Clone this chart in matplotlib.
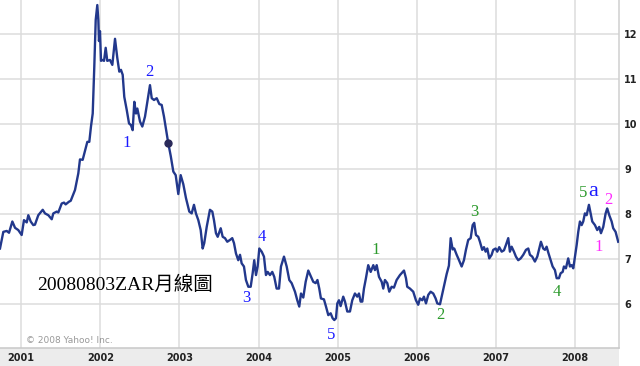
import matplotlib
matplotlib.use("Agg")
import matplotlib.pyplot as plt

# weekly ZAR close (decimal year, rate)
t = [2000.732, 2000.774, 2000.817, 2000.846, 2000.888, 2000.922, 2000.963, 2001.006,
     2001.035, 2001.070, 2001.090, 2001.120, 2001.153, 2001.174, 2001.216, 2001.272,
     2001.301, 2001.343, 2001.386, 2001.406, 2001.449, 2001.469, 2001.512, 2001.541,
     2001.562, 2001.604, 2001.626, 2001.680, 2001.722, 2001.743, 2001.777, 2001.819,
     2001.836, 2001.861, 2001.882, 2001.904, 2001.924, 2001.942, 2001.962, 2001.975,
     2001.983, 2001.996, 2002.009, 2002.025, 2002.047, 2002.068, 2002.088, 2002.122,
     2002.152, 2002.186, 2002.215, 2002.240, 2002.261, 2002.283, 2002.303, 2002.334,
     2002.363, 2002.388, 2002.409, 2002.430, 2002.451, 2002.468, 2002.502, 2002.531,
     2002.565, 2002.599, 2002.628, 2002.650, 2002.679, 2002.713, 2002.746, 2002.776,
     2002.805, 2002.839, 2002.859, 2002.890, 2002.923, 2002.953, 2002.986, 2003.016,
     2003.049, 2003.083, 2003.125, 2003.155, 2003.184, 2003.209, 2003.239, 2003.269,
     2003.294, 2003.314, 2003.345, 2003.386, 2003.416, 2003.437, 2003.462, 2003.484,
     2003.522, 2003.547, 2003.576, 2003.605, 2003.639, 2003.668, 2003.690, 2003.715,
     2003.744, 2003.766, 2003.787, 2003.816, 2003.841, 2003.871, 2003.901, 2003.926,
     2003.946, 2003.968, 2003.989, 2004.010, 2004.040, 2004.069, 2004.094, 2004.116,
     2004.145, 2004.174, 2004.199, 2004.229, 2004.259, 2004.284, 2004.322, 2004.356,
     2004.389, 2004.419, 2004.461, 2004.490, 2004.515, 2004.537, 2004.566, 2004.596,
     2004.629, 2004.659, 2004.692, 2004.722, 2004.745, 2004.768, 2004.789, 2004.827,
     2004.853, 2004.882, 2004.912, 2004.937, 2004.958, 2004.979, 2004.996, 2005.017,
     2005.038, 2005.071, 2005.093, 2005.122, 2005.156, 2005.185, 2005.219, 2005.248,
     2005.270, 2005.291, 2005.312, 2005.333, 2005.358, 2005.387, 2005.418, 2005.451,
     2005.472, 2005.494, 2005.523, 2005.557, 2005.577, 2005.598, 2005.628, 2005.653,
     2005.683, 2005.712, 2005.746, 2005.788, 2005.839, 2005.864, 2005.880, 2005.914,
     2005.956, 2005.990, 2006.019, 2006.041, 2006.070, 2006.091, 2006.117, 2006.146,
     2006.176, 2006.209, 2006.239, 2006.260, 2006.294, 2006.335, 2006.378, 2006.407,
     2006.429, 2006.454, 2006.474, 2006.505, 2006.525, 2006.568, 2006.597, 2006.622,
     2006.651, 2006.682, 2006.707, 2006.727, 2006.749, 2006.778, 2006.799, 2006.828,
     2006.850, 2006.871, 2006.892, 2006.917, 2006.947, 2006.967, 2006.998, 2007.018,
     2007.043, 2007.074, 2007.103, 2007.128, 2007.157, 2007.178, 2007.200, 2007.229,
     2007.254, 2007.283, 2007.314, 2007.347, 2007.381, 2007.410, 2007.431, 2007.460,
     2007.494, 2007.524, 2007.549, 2007.570, 2007.599, 2007.621, 2007.642, 2007.663,
     2007.693, 2007.718, 2007.747, 2007.769, 2007.798, 2007.819, 2007.845, 2007.861,
     2007.886, 2007.915, 2007.937, 2007.958, 2007.979, 2008.000, 2008.022, 2008.042,
     2008.063, 2008.085, 2008.105, 2008.126, 2008.148, 2008.177, 2008.198, 2008.219,
     2008.253, 2008.282, 2008.307, 2008.329, 2008.358, 2008.388, 2008.408, 2008.434,
     2008.464, 2008.484, 2008.514, 2008.547]
rate = [7.24, 7.61, 7.63, 7.59, 7.84, 7.70, 7.65, 7.54,
        7.87, 7.82, 7.98, 7.84, 7.76, 7.77, 7.98, 8.10,
        8.02, 7.98, 7.89, 8.02, 8.06, 8.04, 8.24, 8.26,
        8.22, 8.28, 8.30, 8.54, 8.91, 9.22, 9.21, 9.50,
        9.61, 9.61, 9.95, 10.24, 11.28, 12.32, 12.65, 12.32,
        11.85, 12.07, 11.41, 11.43, 11.41, 11.70, 11.41, 11.43,
        11.32, 11.90, 11.47, 11.17, 11.21, 11.10, 10.61, 10.32,
        10.02, 9.98, 9.87, 10.50, 10.24, 10.35, 10.06, 9.95,
        10.17, 10.54, 10.87, 10.58, 10.54, 10.58, 10.45, 10.43,
        10.17, 9.80, 9.58, 9.30, 8.95, 8.87, 8.45, 8.87,
        8.67, 8.36, 8.06, 8.02, 8.21, 8.02, 7.87, 7.65,
        7.24, 7.36, 7.72, 8.10, 8.06, 7.87, 7.58, 7.50,
        7.69, 7.50, 7.47, 7.39, 7.43, 7.47, 7.36, 7.13,
        6.98, 7.10, 6.91, 6.84, 6.54, 6.39, 6.39, 6.69,
        6.98, 6.65, 6.84, 7.24, 7.17, 7.06, 6.65, 6.72,
        6.65, 6.72, 6.61, 6.35, 6.35, 6.84, 7.06, 6.84,
        6.54, 6.47, 6.28, 6.09, 5.95, 6.24, 6.15, 6.50,
        6.75, 6.63, 6.50, 6.47, 6.54, 6.35, 6.13, 6.11,
        5.95, 5.76, 5.80, 5.69, 5.65, 5.69, 6.02, 6.09,
        5.96, 6.17, 6.06, 5.84, 5.84, 6.09, 6.24, 6.17,
        6.24, 6.06, 6.06, 6.35, 6.58, 6.87, 6.72, 6.87,
        6.76, 6.87, 6.61, 6.50, 6.35, 6.54, 6.47, 6.28,
        6.39, 6.37, 6.54, 6.65, 6.75, 6.58, 6.39, 6.35,
        6.28, 6.09, 5.99, 6.13, 6.09, 6.17, 6.02, 6.21,
        6.28, 6.24, 6.13, 6.02, 6.00, 6.33, 6.67, 6.86,
        7.47, 7.22, 7.24, 7.10, 7.02, 6.84, 6.98, 7.21,
        7.43, 7.47, 7.76, 7.81, 7.54, 7.50, 7.39, 7.21,
        7.27, 7.17, 7.24, 7.02, 7.10, 7.21, 7.24, 7.17,
        7.27, 7.17, 7.20, 7.32, 7.47, 7.17, 7.28, 7.17,
        7.06, 6.98, 7.02, 7.10, 7.21, 7.24, 7.10, 7.06,
        6.95, 7.06, 7.24, 7.39, 7.24, 7.21, 7.28, 7.15,
        6.98, 6.84, 6.76, 6.58, 6.58, 6.69, 6.72, 6.84,
        6.80, 7.02, 6.84, 6.87, 6.80, 7.06, 7.32, 7.61,
        7.84, 7.76, 7.84, 8.02, 7.98, 8.21, 8.02, 7.84,
        7.76, 7.65, 7.72, 7.58, 7.72, 8.02, 8.13, 7.98,
        7.84, 7.69, 7.61, 7.39]

years = [2001, 2002, 2003, 2004, 2005, 2006, 2007, 2008]
rate_ticks = [6, 7, 8, 9, 10, 11, 12]

# highlighted point on the line
dot_t, dot_v = 2002.859, 9.58

# wave count labels (text, x, y, colour, size)
wave_text = ["1", "2", "3", "4", "5", "1", "2", "3", "4", "5", "a", "1", "2"]
wave_t = [2002.334, 2002.620, 2003.851, 2004.048, 2004.912, 2005.481, 2006.294,
          2006.727, 2007.775, 2008.105, 2008.232, 2008.298, 2008.426]
wave_v = [9.58, 11.17, 6.13, 7.50, 5.32, 7.21, 5.76, 8.06, 6.28, 8.47, 8.50, 7.27, 8.32]
wave_col = ["#1a1aff"] * 5 + ["#2c9a2c"] * 5 + ["#1a1aff", "#ff2bff", "#ff2bff"]
wave_size = [12] * 10 + [16, 12, 12]

fig = plt.figure(figsize=(6.4, 3.66), dpi=100)
# grey strip for the year labels, under the plot area only
strip = plt.Rectangle((0, 0), 618.6 / 640, 18 / 366, transform=fig.transFigure,
                      facecolor="#ececec", edgecolor="none", zorder=-5)
fig.patches.append(strip)

ax = fig.add_axes([0, 18 / 366, 618.6 / 640, 348 / 366])
ax.set_facecolor("white")
ax.set_xlim(2000.732, 2008.552)
ax.set_ylim(5.029, 12.762)

ax.plot(t, rate, color="#22388c", lw=1.7, solid_joinstyle="round", zorder=3)
ax.plot([dot_t], [dot_v], "o", color="#2a2a5a", ms=5, zorder=4)

for s, x, y, c, fs in zip(wave_text, wave_t, wave_v, wave_col, wave_size):
    ax.text(x, y, s, color=c, fontsize=fs, ha="center", va="center",
            family=["Liberation Serif"], zorder=5)

ax.text(0.06, 0.181, "20080803ZAR月線圖", transform=ax.transAxes, fontsize=14,
        ha="left", va="center", color="black",
        family=["Liberation Serif", "Noto Sans CJK TC"])
ax.text(0.042, 0.021, "© 2008 Yahoo! Inc.", transform=ax.transAxes, fontsize=6.5,
        ha="left", va="center", color="#999999")

ax.set_xticks(years)
ax.set_xticklabels([str(y) for y in years], fontsize=7, fontweight="bold", color="#222222")
ax.set_yticks(rate_ticks)
ax.set_yticklabels([str(v) for v in rate_ticks], fontsize=7, fontweight="bold", color="#222222")
ax.yaxis.tick_right()
ax.tick_params(axis="x", length=0, pad=3.5)
ax.tick_params(axis="y", length=0, pad=4)
ax.grid(True, color="#dcdcdc", lw=1.1, zorder=0)

for side in ["left", "top"]:
    ax.spines[side].set_visible(False)
ax.spines["right"].set_color("#d0d0d0")
ax.spines["bottom"].set_color("#c8c8c8")
ax.spines["right"].set_linewidth(1.1)
ax.spines["bottom"].set_linewidth(1.1)

fig.savefig("out.png", dpi=100)
